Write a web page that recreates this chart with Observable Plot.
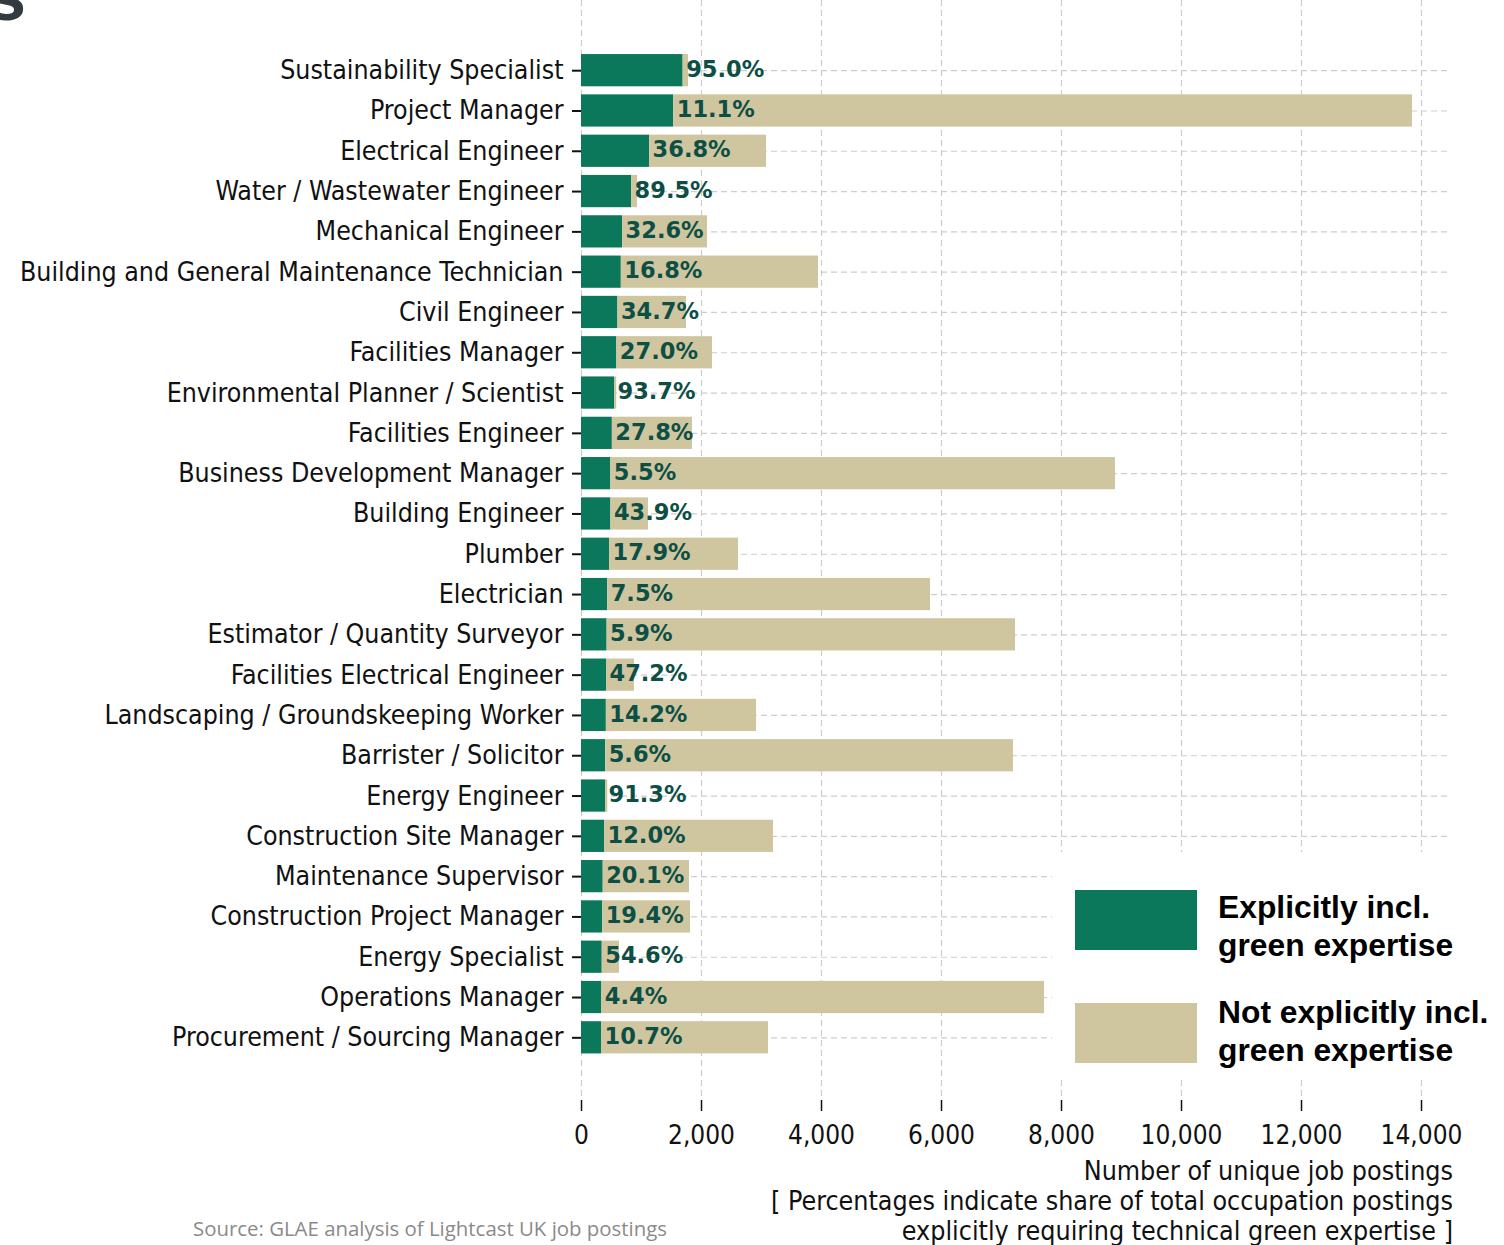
<!DOCTYPE html>
<html>
<head>
<meta charset="utf-8">
<script src="https://cdn.jsdelivr.net/npm/d3@7"></script>
<script src="https://cdn.jsdelivr.net/npm/@observablehq/plot@0.6"></script>
<style>
  html, body { margin: 0; padding: 0; background: #fff; }
  #wrap { position: relative; width: 1504px; height: 1245px; overflow: hidden; }
  .cond { font-family: "DejaVu Sans Condensed", "DejaVu Sans", sans-serif; font-stretch: condensed; }
  #legend { position: absolute; left: 1052px; top: 852px; width: 452px; height: 226px; background: #fff; }
  .sw { position: absolute; left: 23px; width: 122px; height: 60px; }
  .lt { position: absolute; left: 166px; font-family: "Liberation Sans", Arial, sans-serif; font-weight: bold; font-size: 31.8px; line-height: 38px; color: #000; white-space: nowrap; }
  #axtitle { position: absolute; right: 51px; top: 1156px; text-align: right; font-size: 26.6px; line-height: 30px; color: #111; white-space: nowrap; }
  #source { position: absolute; left: 193px; top: 1214px; font-family: "Open Sans", sans-serif; font-size: 20.4px; color: #8a8a8a; white-space: nowrap; }
  #clip { position: absolute; left: -14px; top: -46px; font-family: "Liberation Sans", Arial, sans-serif; font-weight: bold; font-size: 72px; color: #333a40; }
</style>
</head>
<body>
<div id="wrap">
  <div id="chart"></div>
  <div id="clip">s</div>
  <div id="legend">
    <div class="sw" style="top:38px;background:#0b775b"></div>
    <div class="lt" style="top:36px">Explicitly incl.<br>green expertise</div>
    <div class="sw" style="top:151px;background:#cfc6a0"></div>
    <div class="lt" style="top:141px">Not explicitly incl.<br>green expertise</div>
  </div>
  <div id="axtitle" class="cond">Number of unique job postings<br>[ Percentages indicate share of total occupation postings<br>explicitly requiring technical green expertise ]</div>
  <div id="source">Source: GLAE analysis of Lightcast UK job postings</div>
</div>
<script>
const occupations = [
  "Sustainability Specialist",
  "Project Manager",
  "Electrical Engineer",
  "Water / Wastewater Engineer",
  "Mechanical Engineer",
  "Building and General Maintenance Technician",
  "Civil Engineer",
  "Facilities Manager",
  "Environmental Planner / Scientist",
  "Facilities Engineer",
  "Business Development Manager",
  "Building Engineer",
  "Plumber",
  "Electrician",
  "Estimator / Quantity Surveyor",
  "Facilities Electrical Engineer",
  "Landscaping / Groundskeeping Worker",
  "Barrister / Solicitor",
  "Energy Engineer",
  "Construction Site Manager",
  "Maintenance Supervisor",
  "Construction Project Manager",
  "Energy Specialist",
  "Operations Manager",
  "Procurement / Sourcing Manager"
];
const totalPostings = [1783, 13850, 3083, 933, 2100, 3950, 1750, 2183, 587, 1850, 8900, 1117, 2617, 5817, 7233, 883, 2917, 7200, 438, 3200, 1800, 1817, 633, 7717, 3117];
const greenShare = [95.0, 11.1, 36.8, 89.5, 32.6, 16.8, 34.7, 27.0, 93.7, 27.8, 5.5, 43.9, 17.9, 7.5, 5.9, 47.2, 14.2, 5.6, 91.3, 12.0, 20.1, 19.4, 54.6, 4.4, 10.7];
const xTicks = [0, 2000, 4000, 6000, 8000, 10000, 12000, 14000];

const seriesNames = ["Explicitly incl. green expertise", "Not explicitly incl. green expertise"];
const colors = ["#0b775b", "#cfc6a0"];

const rows = occupations.map((o, i) => {
  const g = totalPostings[i] * greenShare[i] / 100;
  return {occupation: o, total: totalPostings[i], green: g, share: greenShare[i]};
});
const stacked = [];
rows.forEach(r => {
  stacked.push({occupation: r.occupation, series: seriesNames[0], value: r.green});
  stacked.push({occupation: r.occupation, series: seriesNames[1], value: r.total - r.green});
});

const fontCond = "DejaVu Sans Condensed, DejaVu Sans, sans-serif";

const chart = Plot.plot({
  width: 1504,
  height: 1245,
  marginLeft: 581,
  marginRight: 53,
  marginTop: 0,
  marginBottom: 145,
  style: {fontFamily: fontCond, fontSize: "26px", color: "#111", background: "#fff"},
  x: {domain: [0, 14500], ticks: xTicks, tickFormat: d3.format(",")},
  y: {domain: occupations, range: [46, 1061.5], padding: 0.2, round: false},
  color: {domain: seriesNames, range: colors},
  marks: [
    Plot.gridX(xTicks, {stroke: "#cdcdcd", strokeOpacity: 1, strokeDasharray: "6,4", strokeWidth: 1.2}),
    Plot.gridY(occupations, {stroke: "#cdcdcd", strokeOpacity: 1, strokeDasharray: "6,4", strokeWidth: 1.2}),
    Plot.barX(stacked, Plot.stackX({x: "value", y: "occupation", fill: "series", order: seriesNames})),
    Plot.text(rows, {
      x: "green", y: "occupation", text: d => d.share.toFixed(1) + "%",
      textAnchor: "start", dx: 3, dy: -1, fill: "#0d4f45",
      fontFamily: "DejaVu Sans, sans-serif", fontWeight: "bold", fontSize: 22.5
    }),
    Plot.axisY({tickSize: 9, tickPadding: 9, label: null, fontSize: 26.5, stroke: "#111", strokeWidth: 2}),
    Plot.axisX(xTicks, {anchor: "bottom", tickSize: 11, tickPadding: 14, label: null, fontSize: 26, tickFormat: d3.format(","), strokeWidth: 1.5})
  ]
});
document.getElementById("chart").appendChild(chart);
</script>
</body>
</html>
